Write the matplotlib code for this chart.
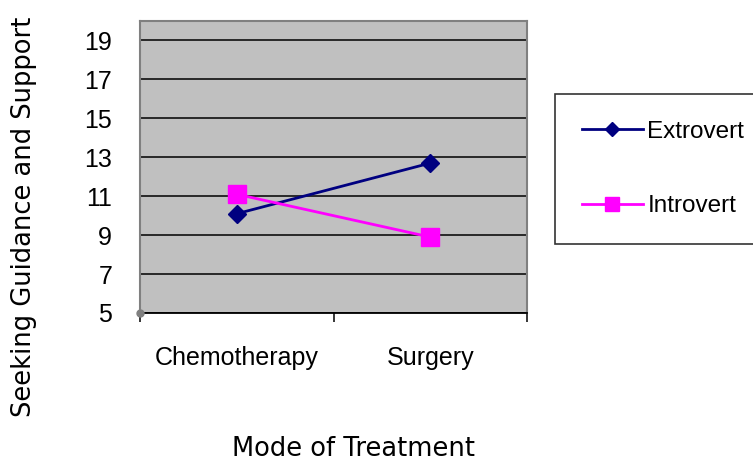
import matplotlib
matplotlib.use("Agg")
import matplotlib.pyplot as plt
from matplotlib.ticker import FixedLocator

categories = ["Chemotherapy", "Surgery"]
extrovert = [10.1, 12.7]
introvert = [11.1, 8.9]
y_ticks = [5, 7, 9, 11, 13, 15, 17, 19]

fig = plt.figure(figsize=(7.53, 4.63), dpi=100)
ax = fig.add_axes([140/753, 1-313/463, 387/753, 292/463])
ax.set_facecolor("#C0C0C0")

x = list(range(len(categories)))
ax.plot(x, extrovert, color="#000080", lw=2.0, marker="D", ms=9,
        label="Extrovert", zorder=3)
ax.plot(x, introvert, color="#FF00FF", lw=2.0, marker="s", ms=12.5,
        label="Introvert", zorder=3)

ax.set_xlim(-0.5, len(categories) - 0.5)
ax.set_ylim(5, 20)
ax.set_yticks(y_ticks)
ax.set_yticklabels([str(v) for v in y_ticks], family="Liberation Sans", fontsize=18)
ax.yaxis.grid(True, color="black", lw=1.1)
ax.set_axisbelow(True)
ax.tick_params(axis="y", length=0, pad=20)

ax.set_xticks(x)
ax.set_xticklabels(categories, family="Liberation Sans", fontsize=18)
ax.tick_params(axis="x", which="major", length=0, pad=24)
ax.xaxis.set_minor_locator(FixedLocator([-0.5, 0.5, 1.5]))
ax.tick_params(axis="x", which="minor", length=6.5, width=1.1, direction="out", color="black")

for s in ["top", "right", "left"]:
    ax.spines[s].set_color("#808080")
    ax.spines[s].set_linewidth(1.5)
ax.spines["bottom"].set_color("black")
ax.spines["bottom"].set_linewidth(1.3)

ax.plot([0], [0], marker="o", ms=5, color="#808080", transform=ax.transAxes,
        clip_on=False, zorder=5)

fig.text(24/753, 1-217/463, "Seeking Guidance and Support", rotation=90,
         ha="center", va="center", family="DejaVu Sans", fontsize=18.5)
fig.text(354/753, 1/463, "Mode of Treatment", ha="center", va="bottom",
         family="DejaVu Sans", fontsize=18.5)

leg = ax.legend(loc="upper left", bbox_to_anchor=(555/753, 1-94/463),
                bbox_transform=fig.transFigure,
                prop={"family": "Liberation Sans", "size": 17.5},
                frameon=True, fancybox=False, edgecolor="black",
                handlelength=2.5, handletextpad=0.2, labelspacing=2.15,
                borderpad=1.1, borderaxespad=0, markerscale=0.75)
leg.get_frame().set_linewidth(1.2)

fig.savefig("out.png", dpi=100)
